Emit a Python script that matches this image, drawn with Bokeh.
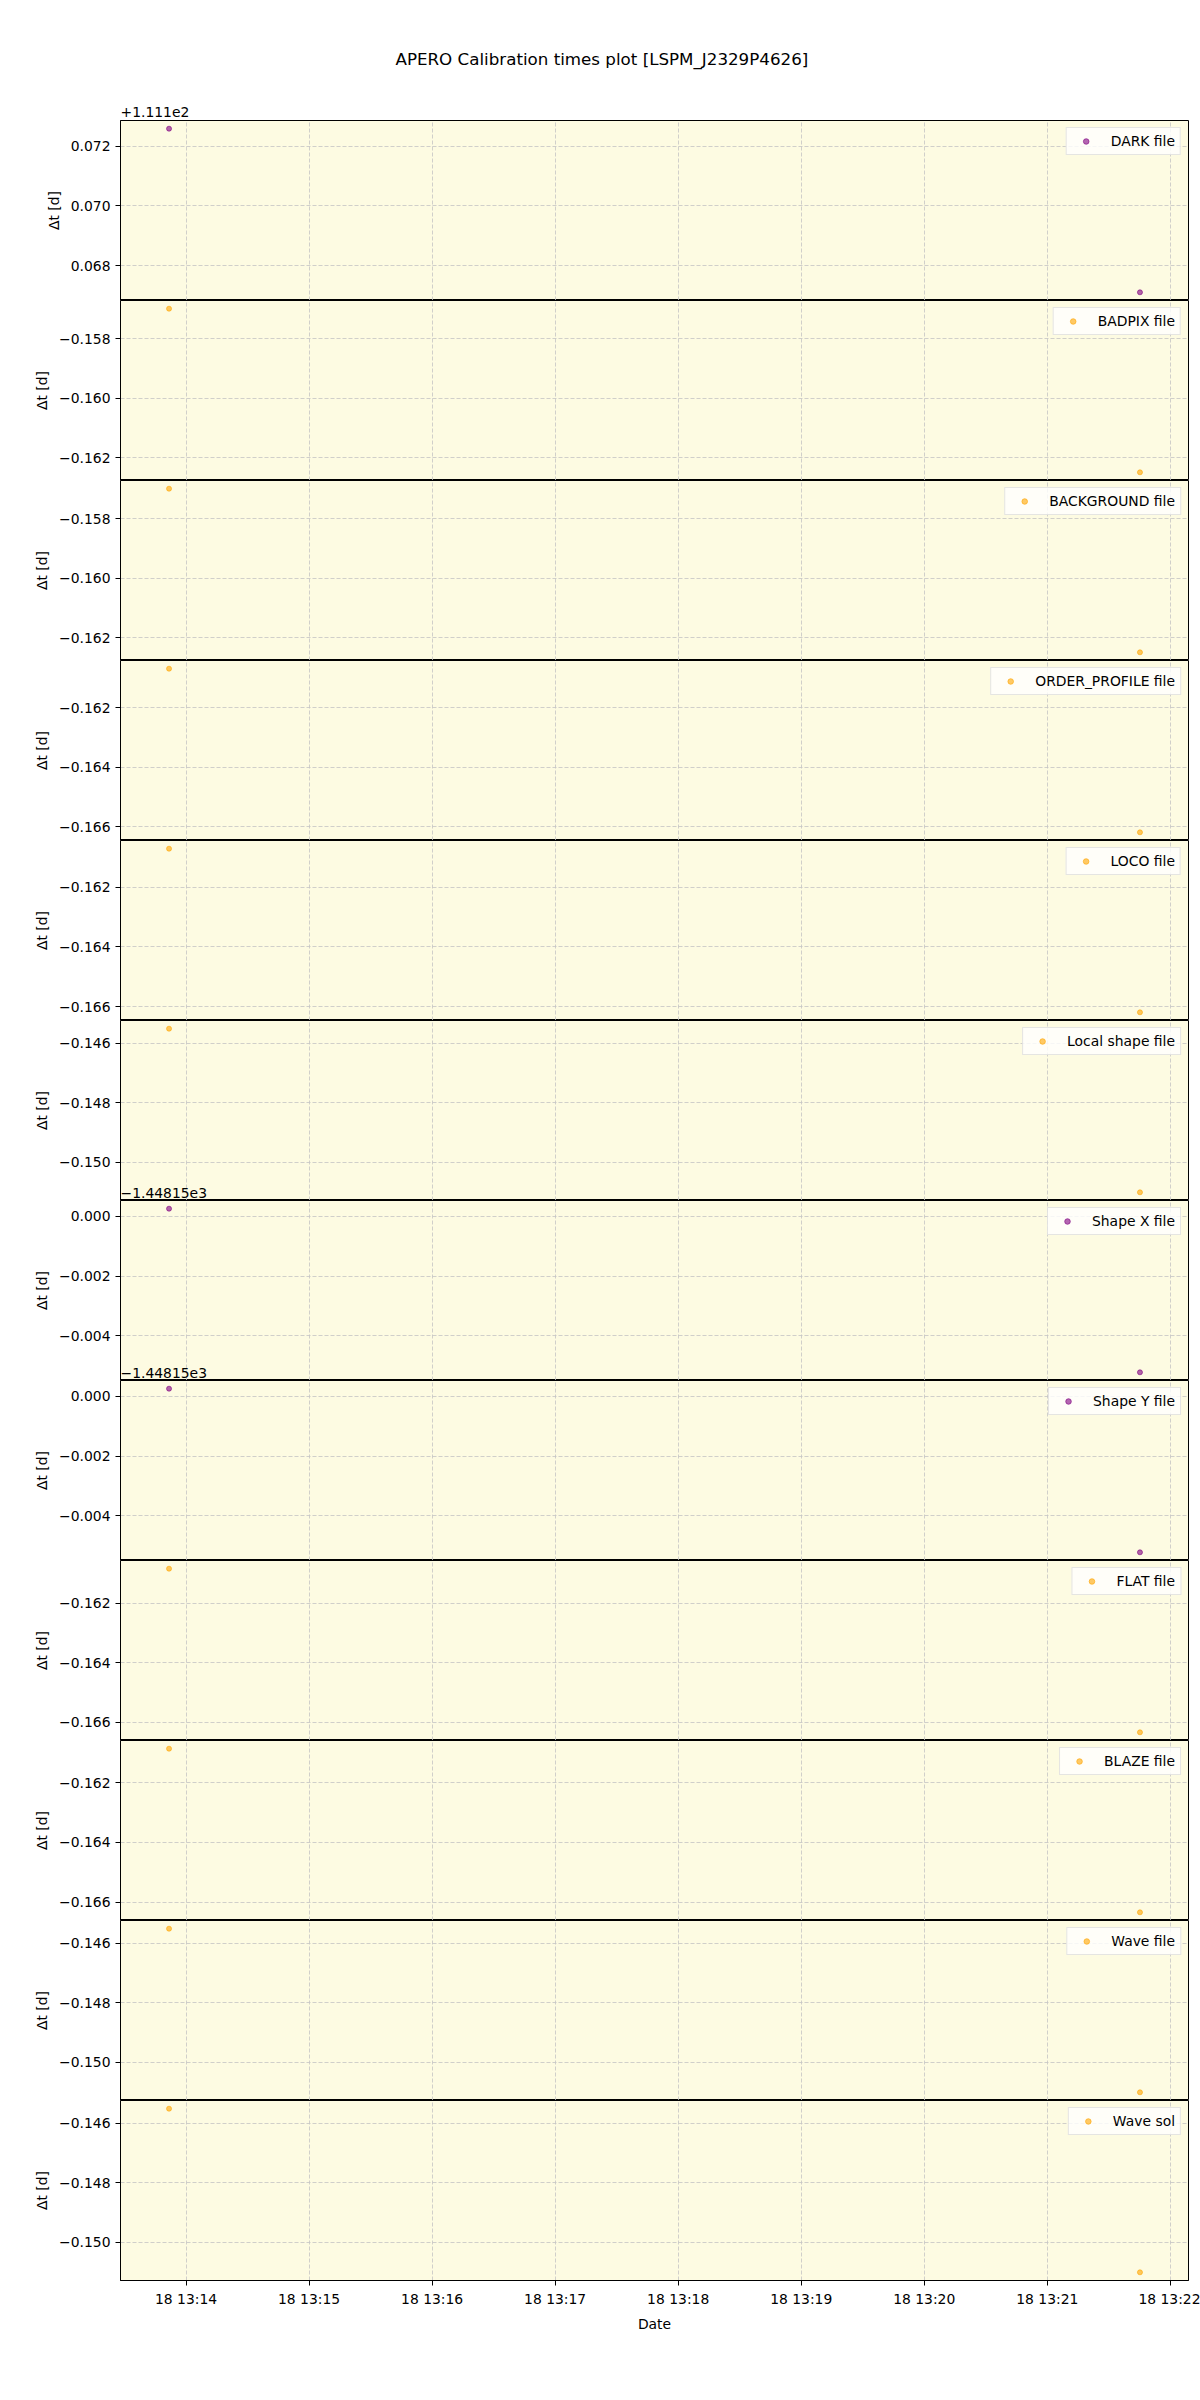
import pandas as pd
from bokeh.plotting import figure
from bokeh.models import (Range1d, SingleIntervalTicker, DatetimeTickFormatter,
                          CustomJSTickFormatter, Label, Title)
from bokeh.layouts import column
from bokeh.embed import file_html
from bokeh.resources import INLINE

# ---------------- data ----------------
title_text = "APERO Calibration times plot [LSPM_J2329P4626]"
obs_times = ["2020-10-18 13:13:51.7", "2020-10-18 13:21:45.2"]

panel_labels = ["DARK file", "BADPIX file", "BACKGROUND file", "ORDER_PROFILE file",
                "LOCO file", "Local shape file", "Shape X file", "Shape Y file",
                "FLAT file", "BLAZE file", "Wave file", "Wave sol"]

dt_dark = [111.172583, 111.167103]
dt_badpix = [-0.157000, -0.162480]
dt_background = [-0.157000, -0.162480]
dt_order_profile = [-0.160700, -0.166180]
dt_loco = [-0.160710, -0.166190]
dt_local_shape = [-0.145520, -0.151000]
dt_shape_x = [-1448.149740, -1448.155220]
dt_shape_y = [-1448.149740, -1448.155220]
dt_flat = [-0.160850, -0.166330]
dt_blaze = [-0.160860, -0.166340]
dt_wave = [-0.145520, -0.151000]
dt_wave_sol = [-0.145520, -0.151000]

panel_values = [dt_dark, dt_badpix, dt_background, dt_order_profile, dt_loco,
                dt_local_shape, dt_shape_x, dt_shape_y, dt_flat, dt_blaze,
                dt_wave, dt_wave_sol]
panel_colors = ["purple", "orange", "orange", "orange", "orange", "orange",
                "purple", "purple", "orange", "orange", "orange", "orange"]
tick_offsets = [111.1, 0, 0, 0, 0, 0, -1448.15, -1448.15, 0, 0, 0, 0]
offset_texts = ["+1.111e2", "", "", "", "", "", "\u22121.44815e3", "\u22121.44815e3",
                "", "", "", ""]

# ---------------- style ----------------
FONT = "DejaVu Sans"
TICK_FS = "13.9px"
BG = "#fdfbe2"
FRAME_W = 1068
FRAME_H = 180
LEFT = 120
RIGHT = 12

times = pd.to_datetime(obs_times)
tmin, tmax = times.min(), times.max()
tspan = tmax - tmin
x_range = Range1d(tmin - 0.05 * tspan, tmax + 0.05 * tspan)

n = len(panel_labels)
figs = []
for i in range(n):
    vals = panel_values[i]
    lo, hi = min(vals), max(vals)
    sp = hi - lo
    y_range = Range1d(lo - 0.05 * sp, hi + 0.05 * sp)
    last = (i == n - 1)
    first = (i == 0)
    p = figure(width=FRAME_W + LEFT + RIGHT,
               frame_width=FRAME_W, frame_height=FRAME_H,
               x_range=x_range, y_range=y_range,
               x_axis_type="datetime",
               x_axis_location="below" if last else None,
               output_backend="svg", toolbar_location=None,
               min_border_left=LEFT, min_border_right=RIGHT,
               min_border_top=120 if first else 0,
               min_border_bottom=8 if last else 0,
               background_fill_color=BG, border_fill_color="white")
    p.outline_line_color = "black"
    p.outline_line_width = 1

    p.scatter(x=times, y=vals, size=5, color=panel_colors[i], alpha=0.6,
              legend_label=panel_labels[i])

    # y axis
    yt = SingleIntervalTicker(interval=0.002, num_minor_ticks=0)
    p.yaxis.ticker = yt
    p.ygrid.ticker = yt
    p.yaxis.formatter = CustomJSTickFormatter(args=dict(off=tick_offsets[i]), code="""
        const v = tick - off;
        const r = Math.abs(v) < 5e-7 ? 0 : v;
        return r.toFixed(3).replace("-", "\u2212");
    """)
    p.yaxis.axis_label = "\u0394t [d]"
    p.yaxis.axis_label_text_font = FONT
    p.yaxis.axis_label_text_font_size = TICK_FS
    p.yaxis.axis_label_text_font_style = "normal"
    p.yaxis.axis_label_text_color = "black"
    p.yaxis.axis_label_standoff = 6
    p.yaxis.major_label_text_font = FONT
    p.yaxis.major_label_text_font_size = TICK_FS
    p.yaxis.major_label_text_color = "black"
    p.yaxis.major_tick_out = 5
    p.yaxis.major_tick_in = 0
    p.yaxis.major_label_standoff = 5
    p.yaxis.axis_line_color = "black"
    p.yaxis.major_tick_line_color = "black"

    # x grid / axis
    xt = SingleIntervalTicker(interval=60000, num_minor_ticks=0)
    p.xgrid.ticker = xt
    if last:
        p.xaxis.ticker = xt
        fmt = "%d %H:%M"
        p.xaxis.formatter = DatetimeTickFormatter(seconds=fmt, minsec=fmt,
                                                  minutes=fmt, hourmin=fmt)
        p.xaxis.axis_label = "Date"
        p.xaxis.axis_label_text_font = FONT
        p.xaxis.axis_label_text_font_size = TICK_FS
        p.xaxis.axis_label_text_font_style = "normal"
        p.xaxis.axis_label_text_color = "black"
        p.xaxis.axis_label_standoff = 6
        p.xaxis.major_label_text_font = FONT
        p.xaxis.major_label_text_font_size = TICK_FS
        p.xaxis.major_label_text_color = "black"
        p.xaxis.major_tick_out = 5
        p.xaxis.major_tick_in = 0
        p.xaxis.major_label_standoff = 5
        p.xaxis.axis_line_color = "black"
        p.xaxis.major_tick_line_color = "black"

    for g in (p.xgrid, p.ygrid):
        g.grid_line_color = "#c4c4c4"
        g.grid_line_alpha = 0.8
        g.grid_line_dash = "4 2"
        g.grid_line_width = 1

    # legend
    lg = p.legend[0]
    lg.location = "top_right"
    lg.margin = 7
    lg.padding = 5
    lg.spacing = 0
    lg.glyph_width = 28
    lg.glyph_height = 14
    lg.label_height = 14
    lg.label_standoff = 11
    lg.label_text_font = FONT
    lg.label_text_font_size = TICK_FS
    lg.label_text_color = "black"
    lg.label_text_baseline = "middle"
    lg.border_line_color = "#cccccc"
    lg.border_line_width = 1
    lg.background_fill_color = "white"
    lg.background_fill_alpha = 0.8

    if first:
        # main title (outermost) and the offset text of the first axis (next to frame)
        p.title.text = title_text
        p.title.align = "left"
        p.title.offset = 275
        p.title.text_font = FONT
        p.title.text_font_size = "16.7px"
        p.title.text_font_style = "normal"
        p.title.text_color = "black"
        p.title.standoff = 65
        p.add_layout(Title(text=offset_texts[i], align="left", text_font=FONT,
                           text_font_size=TICK_FS, text_font_style="normal",
                           text_color="black", standoff=7), "above")
    # offset text of the following panel, drawn at this panel's bottom edge
    if i + 1 < n and offset_texts[i + 1]:
        p.add_layout(Label(x=0, y=3, x_units="screen", y_units="screen",
                           text=offset_texts[i + 1], text_font=FONT,
                           text_font_size=TICK_FS, text_color="black",
                           text_align="left", text_baseline="bottom"))
    figs.append(p)

layout = column(*figs, spacing=0)
open("out.html", "w").write(file_html(layout, INLINE))
